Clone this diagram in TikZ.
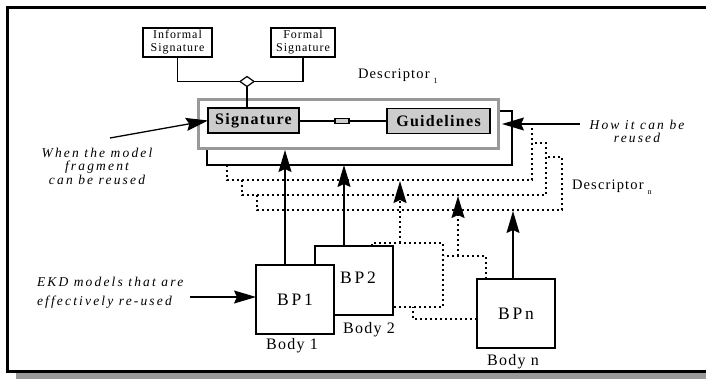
\documentclass[tikz,border=0pt]{standalone}
\usepackage{fontspec}
\setmainfont{Liberation Serif}
\newfontfamily\trackA[LetterSpace=8]{Liberation Serif}
\newfontfamily\trackB[LetterSpace=16]{Liberation Serif}
\usetikzlibrary{arrows.meta,shapes.geometric}

\begin{document}
\begin{tikzpicture}[x=1pt,y=-1pt,
  every node/.style={inner sep=0pt,outer sep=0pt},
  plainbox/.style={draw,line width=1.2pt,fill=white},
  graybox/.style={draw,line width=1.3pt,fill=black!20,
    font=\trackA\bfseries\fontsize{16}{16}\selectfont},
  smallbox/.style={plainbox,align=center,
    font=\trackA\fontsize{12}{13}\selectfont},
  bpbox/.style={plainbox,line width=1.3pt,minimum width=78pt,minimum height=69pt,
    font=\trackB\fontsize{17.5}{17.5}\selectfont},
  bodylabel/.style={font=\trackA\fontsize{16}{16}\selectfont},
  note/.style={font=\trackB\itshape\fontsize{13.5}{13.5}\selectfont},
  desclabel/.style={font=\trackA\fontsize{14.5}{14.5}\selectfont},
  arr/.style={line width=1.3pt,-{Stealth[length=22pt,width=13pt,inset=3pt]}},
  dots/.style={line width=1.6pt,dash pattern=on 1.6pt off 3.4pt},
  link/.style={line width=1.2pt}
]
\useasboundingbox (0,0) rectangle (706,379);
\clip (0,0) rectangle (706,379);
\fill[white] (0,0) rectangle (706,379);

% frame with drop shadow (it runs on past the right edge)
\fill[black!40] (16,373) rectangle (720,379);
\draw[line width=3pt] (720,7.5) -- (7.5,7.5) -- (7.5,371.5) -- (720,371.5);

% stacked descriptors (dotted outlines behind the first one)
\draw[dots] (257,195) -- (257,210) -- (562,210) -- (562,157) -- (546,157);
\draw[dots] (242,180) -- (242,195) -- (546,195) -- (546,143) -- (532,143);
\draw[dots] (227,165) -- (227,180) -- (532,180) -- (532,127);

% descriptor 1
\node[draw,line width=1.3pt,fill=white,minimum width=305pt,minimum height=54pt]
  (back) at (359.5,138) {};
\node[draw=black!40,line width=3pt,fill=white,minimum width=300pt,minimum height=49pt]
  (desc) at (348,124.5) {};
\node[graybox,minimum width=91pt,minimum height=25pt] (sig) at (253.5,120.5) {Signature};
\node[graybox,minimum width=103pt,minimum height=25pt] (guide) at (438.5,121) {Guidelines};
\node[draw,line width=1.2pt,fill=black!20,minimum width=14pt,minimum height=5pt]
  (lnk) at (342,121) {};
\draw[link] (sig.east |- lnk) -- (lnk.west);
\draw[link] (lnk.east) -- (guide.west |- lnk);

% signature kinds
\node[smallbox,minimum width=69pt,minimum height=29pt] (inf) at (177.5,42.5) {Informal\\Signature};
\node[smallbox,minimum width=64pt,minimum height=29pt] (frm) at (303,42.5) {Formal\\Signature};
\node[diamond,draw,line width=1.2pt,fill=white,minimum width=14pt,minimum height=10pt]
  (agg) at (247,81.5) {};
\draw[link] (inf.south) |- (agg.west);
\draw[link] (frm.south) |- (agg.east);
\draw[link] (agg.south) -- (agg.south |- sig.north);

\node[desclabel,anchor=west] (d1) at (358,76) {Descriptor\kern4pt\raisebox{-5pt}{\fontsize{8}{8}\selectfont 1}};
\node[desclabel,anchor=west] (dn) at (572,187) {Descriptor\kern4pt\raisebox{-5pt}{\fontsize{8}{8}\selectfont n}};

% bodies
\node[bpbox] (bp2) at (354,280.5) {};
\node[anchor=center,font=\trackB\fontsize{17.5}{17.5}\selectfont] (bp2t) at (358,278) {BP2};
\node[bpbox] (bp1) at (295,299.5) {BP1};
\node[bpbox] (bpn) at (516,313.5) {BPn};
\node[bodylabel] (b1) at (292,346) {Body 1};
\node[bodylabel] (b2) at (369,330) {Body 2};
\node[bodylabel] (bn) at (513,362) {Body n};

% dotted links between bodies and the other descriptors
\draw[dots] (372,246) -- (372,243) -- (443,243) -- (443,307) -- (bp2.east |- 0,307);
\draw[dots] (bpn.west |- 0,319) -- (413,319) -- (413,307);
\draw[dots] ([xshift=-30pt]bpn.north) -- ([xshift=-30pt]bpn.north |- 0,256) -- (444,256);
\coordinate (da) at (400,243);
\coordinate (db) at (458,256);
\draw[arr,dots] (da) -- (da |- 0,181);
\draw[arr,dots] (db) -- (db |- 0,196);

% solid arrows into the descriptors
\draw[arr] ([xshift=-10pt]bp1.north) -- ([xshift=-10pt]bp1.north |- 0,150);
\draw[arr] ([xshift=-10pt]bp2.north) -- ([xshift=-10pt]bp2.north |- back.south);
\draw[arr] ([xshift=-3pt]bpn.north) -- ([xshift=-3pt]bpn.north |- 0,211);

% annotations
\coordinate (w0) at (110,138);
\draw[arr] (w0) -- (sig.west);
\node[note,align=center] (wtext) at (97,166) {When the model\\fragment\\can be reused};
\coordinate (h0) at (580,124);
\coordinate (h1) at (502,124);
\draw[arr] (h0) -- (h1);
\node[note,align=center] (htext) at (637,131.5) {How it can be\\reused};
\node[note,align=left,anchor=west,font=\trackB\itshape\fontsize{13.5}{19}\selectfont] (ekd) at (37,292.5) {EKD models that are\\effectively re-used};
\coordinate (e0) at (190,297);
\draw[arr] (e0) -- (bp1.west |- e0);
\end{tikzpicture}
\end{document}
